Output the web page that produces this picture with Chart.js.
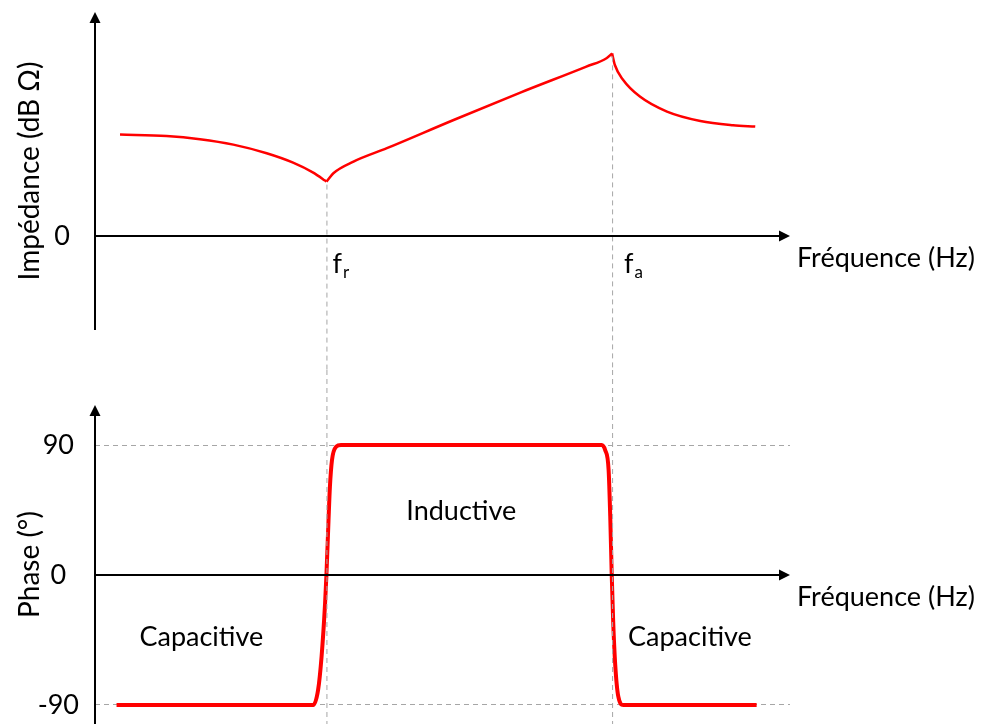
<!DOCTYPE html>
<html lang="fr">
<head>
<meta charset="utf-8">
<title>impédance et phase</title>
<style>
  body { margin: 0; background: #fff; }
  canvas { display: block; }
</style>
</head>
<body>
<canvas id="impChart" width="982" height="370"></canvas>
<canvas id="phaseChart" width="982" height="354"></canvas>

<script src="https://cdn.jsdelivr.net/npm/chart.js"></script>
<script>
  const FR = 33.3;  // résonance
  const FA = 74.4;  // anti-résonance

  // impédance (dB), coupée en trois morceaux aux deux pointes
  const impX1 = [3.6, 10.3, 15.1, 19.9, 24.7, 28.5, 31.4, 33.1, 33.3];
  const impY1 = [50.7, 50.0, 48.4, 45.7, 41.4, 36.7, 31.7, 27.7, 27.2];
  const impX2 = [33.3, 34.3, 37.2, 42.0, 51.6, 61.2, 70.7, 73.6, 74.4];
  const impY2 = [27.2, 31.4, 37.2, 43.9, 58.0, 71.7, 84.7, 88.9, 91.3];
  const impX3 = [74.4, 74.8, 76.0, 78.4, 82.3, 87.1, 91.8, 95.0];
  const impY3 = [91.3, 85.5, 78.0, 69.7, 62.2, 57.5, 55.4, 54.7];

  // phase (degrés)
  const phaseX = [3.1, 31.4, 32.1, 32.6, 33.1, 33.3, 33.6, 33.8, 34.1, 34.7, 35.4, 72.9, 73.4, 73.9, 74.15, 74.35, 74.55, 74.85, 75.3, 76.0, 95.2];
  const phaseY = [-90, -90, -79.6, -56.5, -20, 0, 38, 61, 79.6, 88.8, 90, 90, 86.5, 72.7, 38, 0, -31, -62, -84.3, -90, -90];

  const impTicks = [0];
  const phaseTicks = [-90, 0, 90];

  const FONT = 'Lato, "Open Sans", sans-serif';
  const FS = 27;
  const RED = '#ff0000';
  const GREY = '#a6a6a6';

  const pts = (xs, ys) => xs.map((x, i) => ({x: x, y: ys[i]}));

  function curve(xs, ys, w) {
    return {
      data: pts(xs, ys),
      borderColor: RED,
      borderWidth: w,
      pointRadius: 0,
      fill: false,
      cubicInterpolationMode: 'monotone'
    };
  }

  function arrow(ctx, x0, y0, x1, y1) {
    const a = Math.atan2(y1 - y0, x1 - x0);
    const L = 11, W = 5.5;
    const c = Math.cos(a), s = Math.sin(a);
    ctx.beginPath();
    ctx.moveTo(x0, y0);
    ctx.lineTo(x1 - L * c, y1 - L * s);
    ctx.stroke();
    ctx.beginPath();
    ctx.moveTo(x1, y1);
    ctx.lineTo(x1 - L * c + W * s, y1 - L * s - W * c);
    ctx.lineTo(x1 - L * c - W * s, y1 - L * s + W * c);
    ctx.closePath();
    ctx.fill();
  }

  function vdash(ctx, px, y0, y1) {
    ctx.save();
    ctx.strokeStyle = GREY;
    ctx.lineWidth = 1;
    ctx.setLineDash([5, 4]);
    ctx.beginPath();
    ctx.moveTo(px + 0.5, y0);
    ctx.lineTo(px + 0.5, y1);
    ctx.stroke();
    ctx.restore();
  }

  // axes with arrows + "Fréquence (Hz)"
  function axes(chart) {
    const {ctx, chartArea: a, scales: {y}} = chart;
    const y0 = y.getPixelForValue(0);
    ctx.save();
    ctx.strokeStyle = '#000';
    ctx.fillStyle = '#000';
    ctx.lineWidth = 2;
    arrow(ctx, a.left, a.bottom, a.left, a.top);
    arrow(ctx, a.left, y0, a.right, y0);
    ctx.font = FS + 'px ' + FONT;
    ctx.textBaseline = 'middle';
    ctx.textAlign = 'left';
    ctx.fillText('Fréquence (Hz)', a.right + 7, y0 + 22);
    ctx.restore();
  }

  function subLabel(ctx, px, py, main, sub) {
    ctx.save();
    ctx.fillStyle = '#000';
    ctx.textBaseline = 'alphabetic';
    ctx.textAlign = 'left';
    ctx.font = FS + 'px ' + FONT;
    ctx.fillText(main, px, py);
    const w = ctx.measureText(main).width;
    ctx.font = '17px ' + FONT;
    ctx.fillText(sub, px + w + 1, py + 5);
    ctx.restore();
  }

  const impDecor = {
    id: 'impDecor',
    afterDraw(chart) {
      const {ctx, scales: {x, y}} = chart;
      const y0 = y.getPixelForValue(0);
      const xr = x.getPixelForValue(FR), xa = x.getPixelForValue(FA);
      vdash(ctx, xr, y.getPixelForValue(impY1[impY1.length - 1]) + 3, chart.height);
      vdash(ctx, xa, y.getPixelForValue(impY3[0]) + 3, chart.height);
      axes(chart);
      subLabel(ctx, xr + 6, y0 + 37, 'f', 'r');
      subLabel(ctx, xa + 12, y0 + 37, 'f', 'a');
    }
  };

  const phaseDecor = {
    id: 'phaseDecor',
    afterDraw(chart) {
      const {ctx, scales: {x, y}} = chart;
      vdash(ctx, x.getPixelForValue(FR), 0, chart.height);
      vdash(ctx, x.getPixelForValue(FA), 0, chart.height);
      axes(chart);
      ctx.save();
      ctx.fillStyle = '#000';
      ctx.font = FS + 'px ' + FONT;
      ctx.textAlign = 'center';
      ctx.textBaseline = 'middle';
      ctx.fillText('Inductive', x.getPixelForValue(52.7), y.getPixelForValue(44.3));
      ctx.fillText('Capacitive', x.getPixelForValue(15.3), y.getPixelForValue(-42.9));
      ctx.fillText('Capacitive', x.getPixelForValue(85.6), y.getPixelForValue(-42.9));
      ctx.restore();
    }
  };

  const xScale = { type: 'linear', display: false, min: 0, max: 100 };

  function yScale(min, max, ticks, title, tickPad, grid) {
    return {
      type: 'linear',
      min: min,
      max: max,
      z: 1,
      afterFit: (s) => {
        s.width = 95;
        s.paddingTop = 0;
        s.paddingBottom = 0;
      },
      afterBuildTicks: (axis) => { axis.ticks = ticks.map(v => ({value: v})); },
      border: {display: false, dash: [5, 4]},
      grid: {
        display: grid,
        drawTicks: false,
        lineWidth: 1,
        color: (c) => (c.tick && c.tick.value === 0) ? 'rgba(0,0,0,0)' : GREY
      },
      ticks: {
        color: '#000',
        font: {family: FONT, size: FS},
        crossAlign: 'center',
        padding: tickPad
      },
      title: {
        display: true,
        text: title,
        color: '#000',
        font: {family: FONT, size: 28},
        padding: {top: 13, bottom: 0}
      }
    };
  }

  new Chart(document.getElementById('impChart'), {
    type: 'line',
    data: {
      datasets: [curve(impX1, impY1, 2.5), curve(impX2, impY2, 2.5), curve(impX3, impY3, 2.5)]
    },
    options: {
      responsive: false,
      animation: false,
      layout: {padding: {left: 0, right: 192, top: 12, bottom: 40}},
      plugins: {legend: {display: false}, tooltip: {enabled: false}},
      scales: {
        x: xScale,
        y: yScale(-47, 112, impTicks, 'Impédance (dB Ω)', 25, false)
      }
    },
    plugins: [impDecor]
  });

  new Chart(document.getElementById('phaseChart'), {
    type: 'line',
    data: {
      datasets: [curve(phaseX, phaseY, 4)]
    },
    options: {
      responsive: false,
      animation: false,
      layout: {padding: {left: 0, right: 192, top: 35, bottom: 0}},
      plugins: {legend: {display: false}, tooltip: {enabled: false}},
      scales: {
        x: xScale,
        y: yScale(-103.2, 117.7, phaseTicks, 'Phase (°)', 16, true)
      }
    },
    plugins: [phaseDecor]
  });
</script>
</body>
</html>
